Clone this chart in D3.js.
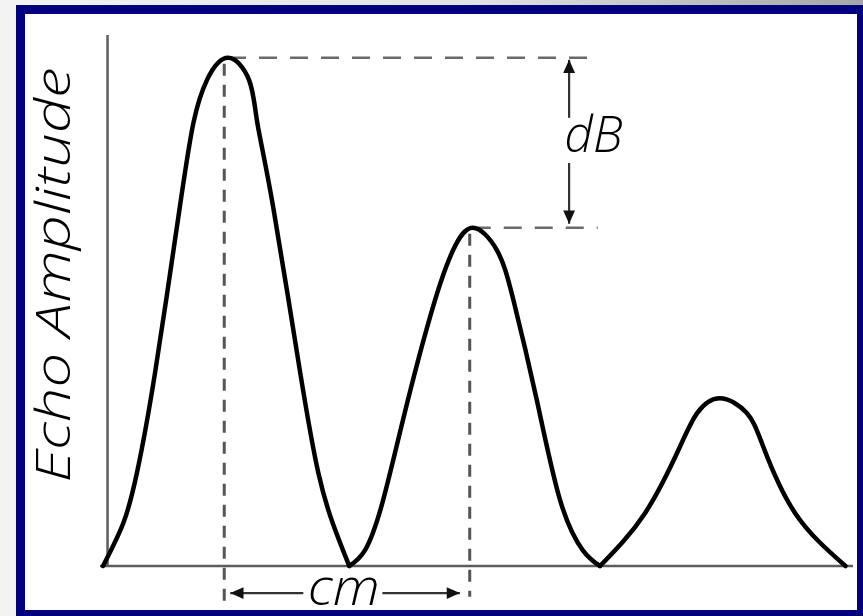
<!DOCTYPE html>
<html>
<head>
<meta charset="utf-8">
<script src="https://cdn.jsdelivr.net/npm/d3@7"></script>
<style>
  html, body { margin: 0; padding: 0; }
  body { width: 863px; height: 616px; overflow: hidden; }
  svg { display: block; }
  .lbl { font-family: "Open Sans", "Noto Sans", sans-serif; font-style: italic; font-weight: 300; fill: #000; }
</style>
</head>
<body>
<svg id="chart" width="863" height="616"></svg>
<script>
// Echo train: depth along the beam vs. received amplitude (arbitrary units)
const depth = [0.4, 3.1, 4.9, 7.3, 10.6, 12.4, 14.2, 17.0, 19.8, 20.9, 23.0, 26.6, 29.0, 30.9, 33.1,
               35.2, 37.6, 40.9, 44.5, 46.9, 49.5, 52.7, 54.9, 58.0, 61.1, 64.1, 66.4,
               72.4, 77.0, 79.3, 82.3, 85.9, 88.1, 92.3, 99.0];
const amplitude = [0, 8.1, 17.5, 36.3, 67.6, 83.4, 91.5, 95.7, 91.5, 83.4, 67.6, 36.3, 17.5, 8.1, 0,
                   3.0, 12.4, 31.3, 50.1, 59.5, 63.7, 59.5, 50.1, 31.3, 12.4, 3.0, 0,
                   10.0, 22.4, 28.8, 31.6, 28.8, 22.4, 10.0, 0];

// The two echoes that are compared
const peakDepth = [17.0, 49.5];
const peakAmp = [95.7, 63.7];
const dropDepth = [16.5, 49.1];     // where the vertical guide lines sit
const guideBottom = [-7.7, -5.8];   // how far below the baseline each guide runs
const levelEnd = [65.7, 66.1];      // right end of the horizontal level lines

// Annotation labels
const yLabel = "Echo Amplitude";
const ampLabel = "dB";
const distLabel = "cm";

const svg = d3.select("#chart");
const W = 863, H = 616;

// Page background and framed panel
const defs = svg.append("defs");
const bg = defs.append("linearGradient").attr("id", "bg")
  .attr("x1", "0%").attr("y1", "0%").attr("x2", "100%").attr("y2", "0%");
bg.append("stop").attr("offset", "0%").attr("stop-color", "#f3f3f3");
bg.append("stop").attr("offset", "55%").attr("stop-color", "#e2e2e2");
bg.append("stop").attr("offset", "100%").attr("stop-color", "#a6a6a6");
svg.append("rect").attr("width", W).attr("height", H).attr("fill", "url(#bg)");
svg.append("rect").attr("x", 16).attr("y", 5).attr("width", W).attr("height", H).attr("fill", "#000080");
svg.append("rect").attr("x", 25).attr("y", 14).attr("width", 832).attr("height", 596).attr("fill", "#ffffff");

const x = d3.scaleLinear().domain([0, 100]).range([100, 853]);
const y = d3.scaleLinear().domain([0, 100]).range([566, 35]);

// Arrowhead marker
defs.append("marker").attr("id", "arrow")
  .attr("viewBox", "0 0 10 10").attr("refX", 10).attr("refY", 5)
  .attr("markerWidth", 6.5).attr("markerHeight", 6).attr("markerUnits", "strokeWidth")
  .attr("orient", "auto")
  .append("path").attr("d", "M0,0.5 L10,5 L0,9.5 Z").attr("fill", "#111");

// Axes: plain lines without ticks
const axisG = svg.append("g").attr("stroke", "#5c5c5c").attr("stroke-width", 2.5);
axisG.append("line").attr("x1", x(1)).attr("x2", x(1)).attr("y1", y(0)).attr("y2", y(100));
axisG.append("line").attr("x1", x(0)).attr("x2", x(100)).attr("y1", y(0)).attr("y2", y(0));

// Guide lines (dashed)
const guides = svg.append("g").attr("fill", "none");
peakDepth.forEach((d, i) => {
  guides.append("line")
    .attr("x1", x(d)).attr("x2", x(levelEnd[i]))
    .attr("y1", y(peakAmp[i])).attr("y2", y(peakAmp[i]))
    .attr("stroke", "#6a6a6a").attr("stroke-width", 2.5)
    .attr("stroke-dasharray", "18,13");
  guides.append("line")
    .attr("x1", x(dropDepth[i])).attr("x2", x(dropDepth[i]))
    .attr("y1", y(peakAmp[i]) + 6).attr("y2", y(guideBottom[i]))
    .attr("stroke", "#555").attr("stroke-width", 3)
    .attr("stroke-dasharray", "12,9");
});

// Echo curve: one smooth lobe per echo, split where the amplitude returns to zero
const pts = depth.map((d, i) => [d, amplitude[i]]);
const lobes = [];
let cur = [pts[0]];
for (let i = 1; i < pts.length; i++) {
  cur.push(pts[i]);
  if (pts[i][1] === 0 && i < pts.length - 1) { lobes.push(cur); cur = [pts[i]]; }
}
lobes.push(cur);
const line = d3.line().x(d => x(d[0])).y(d => y(d[1])).curve(d3.curveNatural);
svg.append("g").selectAll("path").data(lobes).join("path")
  .attr("d", line)
  .attr("fill", "none").attr("stroke", "#000").attr("stroke-width", 4.5)
  .attr("stroke-linejoin", "round").attr("stroke-linecap", "round");

// Amplitude difference marker (dB)
const dbX = 62.3;
const arr = svg.append("g").attr("stroke", "#333").attr("stroke-width", 2.2);
arr.append("line").attr("x1", x(dbX)).attr("x2", x(dbX))
  .attr("y1", y(84.4)).attr("y2", y(peakAmp[0]) + 2).attr("marker-end", "url(#arrow)");
arr.append("line").attr("x1", x(dbX)).attr("x2", x(dbX))
  .attr("y1", y(75.9)).attr("y2", y(peakAmp[1]) - 4).attr("marker-end", "url(#arrow)");
svg.append("text").attr("class", "lbl")
  .attr("x", x(61.7)).attr("y", y(78.0))
  .attr("font-size", 50)
  .attr("textLength", 58).attr("lengthAdjust", "spacingAndGlyphs")
  .text(ampLabel);

// Distance marker (cm)
const cmY = -5.1;
arr.append("line").attr("x1", x(27.0)).attr("x2", x(17.3))
  .attr("y1", y(cmY)).attr("y2", y(cmY)).attr("marker-end", "url(#arrow)");
arr.append("line").attr("x1", x(37.5)).attr("x2", x(47.8))
  .attr("y1", y(cmY)).attr("y2", y(cmY)).attr("marker-end", "url(#arrow)");
svg.append("text").attr("class", "lbl")
  .attr("x", x(27.6)).attr("y", y(-7.3))
  .attr("font-size", 50)
  .attr("textLength", 72).attr("lengthAdjust", "spacingAndGlyphs")
  .text(distLabel);

// Vertical axis title
svg.append("text").attr("class", "lbl")
  .attr("transform", "translate(70,275) rotate(-90)")
  .attr("text-anchor", "middle")
  .attr("font-size", 48)
  .attr("textLength", 415).attr("lengthAdjust", "spacingAndGlyphs")
  .text(yLabel);
</script>
</body>
</html>
